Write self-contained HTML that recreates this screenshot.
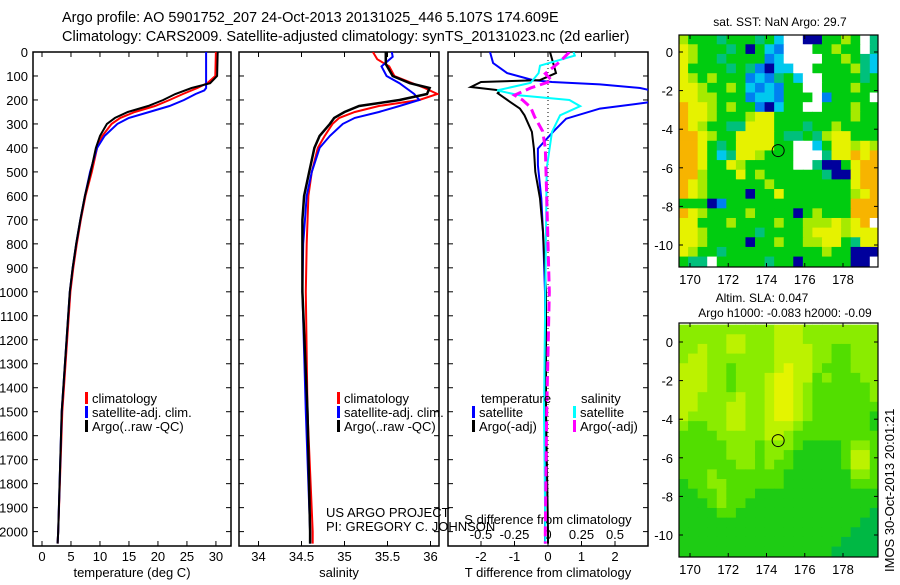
<!DOCTYPE html>
<html><head><meta charset="utf-8"><style>
body{margin:0;background:#fff;}
svg text{font-family:"Liberation Sans",sans-serif;fill:#000;}
</style></head><body>
<svg id="chart" width="900" height="580" viewBox="0 0 900 580" xmlns="http://www.w3.org/2000/svg">
<text x="62" y="22" font-size="14.5">Argo profile: AO 5901752_207 24-Oct-2013 20131025_446 5.107S 174.609E</text>
<text x="62" y="41" font-size="14.5">Climatology: CARS2009. Satellite-adjusted climatology: synTS_20131023.nc (2d earlier)</text>
<g id="g"></g>
</svg>
<script>
// ---- data ----
const depthTicks=[0,100,200,300,400,500,600,700,800,900,1000,1100,1200,1300,1400,1500,1600,1700,1800,1900,2000];
const tempTicks=[0,5,10,15,20,25,30];
const salTicks=[34,34.5,35,35.5,36];
const tdiffTicks=[-2,-1,0,1,2];
const sdiffTicks=[-0.5,-0.25,0,0.25,0.5];
const tDepth=[0,100,130,150,175,200,225,250,275,300,350,400,500,600,700,800,900,1000,1500,2000,2050];
const tArgo=[30.3,30.2,29,25.8,23,20.9,18.3,14.8,12.6,11.2,10,9.3,8.4,7.4,6.6,5.9,5.3,4.8,3.4,2.8,2.7];
const tClim=[30.0,29.9,28.5,26.8,24.3,22,19.5,16,13.5,12,10.4,9.5,8.6,7.5,6.7,6.0,5.4,4.9,3.5,2.8,2.7];
const tSatDepth=[0,100,150,160,175,200,225,250,275,300,350,400,500,600,700,800,900,1000,1500,2000,2050];
const tSat=[28.3,28.3,28.3,28.0,26.5,24.5,22,18.5,15,13,10.8,9.5,8.3,7.4,6.6,5.9,5.3,4.8,3.4,2.8,2.7];
const sArgoDepth=[0,50,100,130,150,175,200,225,250,275,300,350,400,500,600,700,1000,1500,2000,2050];
const sArgo=[35.48,35.48,35.56,35.76,35.99,35.96,35.64,35.17,35.0,34.88,34.83,34.71,34.65,34.59,34.53,34.51,34.51,34.57,34.6,34.6];
const sClimDepth=[0,30,60,100,150,175,200,225,250,275,300,350,400,500,600,800,1000,1500,2000,2050];
const sClim=[35.33,35.38,35.52,35.58,35.93,36.08,35.87,35.4,35.12,34.94,34.86,34.77,34.69,34.62,34.58,34.56,34.55,34.57,34.63,34.63];
const sSatDepth=[0,20,60,100,130,175,200,225,250,275,300,350,400,500,600,800,1000,1500,2000,2050];
const sSat=[35.55,35.56,35.43,35.49,35.64,35.81,35.87,35.64,35.4,35.12,34.98,34.83,34.71,34.62,34.56,34.52,34.51,34.55,34.6,34.6];
const dTSatDepth=[0,46,88,117,125,135,150,161,208,236,278,333,403,472,611,750,1000,1500,2000,2050];
const dTSat=[-1.73,-1.64,-1.22,-0.45,0.12,1.55,2.75,3.1,3.1,1.55,0.54,0.15,-0.3,-0.3,-0.2,-0.15,-0.09,-0.09,-0.09,-0.09];
const dTArgoDepth=[0,88,117,125,146,160,172,208,236,264,333,403,500,611,750,1000,1500,2000,2050];
const dTArgo=[0.06,0.24,-0.24,-2.0,-2.3,-1.43,-1.5,-1.13,-0.84,-0.7,-0.48,-0.42,-0.38,-0.24,-0.15,-0.06,-0.06,0.0,0.0];
const dSSatDepth=[0,15,57,88,129,160,181,200,226,264,333,486,1000,1500,2000,2050];
const dSSat=[0.19,0.2,-0.06,-0.07,-0.13,-0.38,-0.21,0.16,0.24,0.09,0.03,-0.01,-0.02,-0.03,-0.02,-0.02];
const dSArgoDepth=[0,40,90,120,150,180,200,230,270,330,400,600,1000,1500,2000,2050];
const dSArgo=[0.16,0.09,-0.02,0.03,-0.13,-0.25,-0.19,-0.13,-0.1,-0.04,-0.02,-0.01,0.01,-0.01,-0.02,-0.02];
const lonTicks=[170,172,174,176,178];
const latTicks=[0,-2,-4,-6,-8,-10];
const sstRows=[
"LGGGTGGGTGCWWNNGGLGWT","YLGGGTGNGCBWWWGGLGGWT","YLGGTGGGGBCWWWWGGLGTC","YGGGGTGTBNCCWWGGGGLTC",
"YLGLGGGBCBTGCWWGGGGTG","YYLGGLGCBCBGGWWGGGLGG","YYLLGGGBCCBGGGWBGGGGW","OYYLGLGGBNCGGWWGGGLGG",
"OYYLGGGLYYGGGGGGGGLGG","OYLGGTTYYYGGGTGGLGGGG","OOYLGGYYYYGTTGTLYYGGG","OOYGTGYYYYGGWWCGYYLYL",
"OOYGCTYYLGGGWWWTYYOYO","OOYGGYLGGGGGWWTNNGYOO","OOLGGGYGLGGGGGGTNNYOO","OYLGGGGGGLGGGGGGGGYOO",
"OYLGGGGNGGYGGGGGGGLYO","GGGNBGGGGGGGGGGGGGOOO","OYLGGGGLGGGGNGLGGGOOO","YYGGGLGGGGLGGLLLYLYOW",
"YYLGGGGGTGGGGLYYYLYYY","YYLGGGGNGGLGGLLYYGTYY","YLGGTGGGGGGGGGGLGGNNN","GTTWGGGGGTGGNGGGGGNNW"];
const slaRows=[
"333333333344433333333","333334433344433333333","334334433344443322333","344333333344443322333",
"444332333345443222333","444332333455442322233","444332333455432222223","443333433455432222223",
"443334433455432222222","433334433455432222221","322334433444322222221","222233333443222222222",
"222223332333211112332","222223332332111112442","222222332322111112442","222322222221111111332",
"122332222221111111222","112232221111111111111","111232211111111111111","111122111111111111110",
"111111111111111111100","111111111111111111000","111111111111111110000","111111111111111100000"];
const argoLon=174.609, argoLat=-5.107;

// ---- drawing ----
const NS="http://www.w3.org/2000/svg";
const G=document.getElementById('g');
function el(tag,attrs,parent){const e=document.createElementNS(NS,tag);for(const k in attrs)e.setAttribute(k,attrs[k]);(parent||G).appendChild(e);return e;}
function txt(s,x,y,size,anchor,parent){const t=el('text',{x:x,y:y,'font-size':size,'text-anchor':anchor||'start'},parent);t.textContent=s;return t;}
const Y0=52,Y1=546;
const yD=d=>Y0+d*(Y1-Y0)/2060;
const panels=[
 {name:'temperature-panel',x0:33,x1:231,v0:-1.55,v1:32.6},
 {name:'salinity-panel',x0:239,x1:439,v0:33.773,v1:36.099},
 {name:'difference-panel',x0:448,x1:648,v0:-2.985,v1:2.985}
];
panels.forEach(p=>{p.sx=v=>p.x0+(v-p.v0)*(p.x1-p.x0)/(p.v1-p.v0);});
const xT=panels[0].sx,xS=panels[1].sx,xDT=panels[2].sx,xDS=v=>panels[2].sx(v*4);

function series(depths,vals,sx,color,w,name,dash,clipId){
  const pts=depths.map((d,i)=>sx(vals[i]).toFixed(1)+','+yD(d).toFixed(1)).join(' ');
  const a={points:pts,fill:'none',stroke:color,'stroke-width':w,'clip-path':'url(#'+clipId+')'};
  if(dash)a['stroke-dasharray']=dash;
  const l=el('polyline',a);
  
  
}
const defs=el('defs',{});
panels.forEach((p,i)=>{
  const cp=el('clipPath',{id:'c'+i},defs);
  el('rect',{x:p.x0,y:Y0,width:p.x1-p.x0,height:Y1-Y0},cp);
  const fr=el('rect',{x:p.x0,y:Y0,width:p.x1-p.x0,height:Y1-Y0,fill:'none',stroke:'#000','stroke-width':1.5});
  
  
  depthTicks.forEach(d=>{
    el('line',{x1:p.x0,x2:p.x0+5,y1:yD(d),y2:yD(d),stroke:'#000'});
    el('line',{x1:p.x1,x2:p.x1-5,y1:yD(d),y2:yD(d),stroke:'#000'});
  });
});
depthTicks.forEach(d=>{const t=txt(String(d),28,yD(d)+5,13,'end');
  
  });
function xticks(ticks,sx,p,fmt,ylab){
  ticks.forEach(v=>{const x=sx(v);
    el('line',{x1:x,x2:x,y1:Y1,y2:Y1-5,stroke:'#000'});
    el('line',{x1:x,x2:x,y1:Y0,y2:Y0+5,stroke:'#000'});
    const t=txt(fmt(v),x,ylab,13,'middle');
    
    });
}
xticks(tempTicks,xT,panels[0],String,561);
xticks(salTicks,xS,panels[1],String,561);
xticks(tdiffTicks,xDT,panels[2],String,561);
sdiffTicks.forEach(v=>{const t=txt(String(v),xDS(v),539,13,'middle');
  
  });
[['temperature (deg C)',132,'temperature-axis-title'],['salinity',339,'salinity-axis-title'],['T difference from climatology',548,'t-difference-axis-title']].forEach(a=>{
  const t=txt(a[0],a[1],577,13,'middle');
  
  });
{const t=txt('S difference from climatology',548,524,13,'middle');
 
 }
{const z=el('line',{x1:xDT(0),x2:xDT(0),y1:Y0,y2:Y1,stroke:'#000','stroke-dasharray':'1,3'});
 
 }
series(tDepth,tClim,xT,'#f00',2,'temp-climatology-line',null,'c0');
series(tSatDepth,tSat,xT,'#00f',2,'temp-satellite-line',null,'c0');
series(tDepth,tArgo,xT,'#000',2,'temp-argo-line',null,'c0');
series(sClimDepth,sClim,xS,'#f00',2,'sal-climatology-line',null,'c1');
series(sSatDepth,sSat,xS,'#00f',2,'sal-satellite-line',null,'c1');
series(sArgoDepth,sArgo,xS,'#000',2.5,'sal-argo-line',null,'c1');
series(dTSatDepth,dTSat,xDT,'#00f',2,'tdiff-satellite-line',null,'c2');
series(dTArgoDepth,dTArgo,xDT,'#000',2,'tdiff-argo-line',null,'c2');
series(dSSatDepth,dSSat,xDS,'#0ff',2,'sdiff-satellite-line',null,'c2');
series(dSArgoDepth,dSArgo,xDS,'#f0f',3,'sdiff-argo-line','10,5','c2');
function legend(x,y,color,label,name){
  const r=el('rect',{x:x,y:y-11,width:3,height:12,fill:color});
  
  
  const t=txt(label,x+7,y,13);
  
  
}
[[85,'#f00','climatology'],[85,'#00f','satellite-adj. clim.'],[85,'#000','Argo(..raw -QC)']].forEach((a,i)=>legend(a[0],403+i*14,a[1],a[2],'legend-entry'));
[[337,'#f00','climatology'],[337,'#00f','satellite-adj. clim.'],[337,'#000','Argo(..raw -QC)']].forEach((a,i)=>legend(a[0],403+i*14,a[1],a[2],'legend-entry'));
{const t=txt('temperature',481,403,13);
 const s=txt('salinity',581,403,13);}
legend(472,417,'#00f','satellite','legend-entry');
legend(472,431,'#000','Argo(-adj)','legend-entry');
legend(573,417,'#0ff','satellite','legend-entry');
legend(573,431,'#f0f','Argo(-adj)','legend-entry');
{const t=txt('US ARGO PROJECT',326,517,13);
 const s=txt('PI: GREGORY C. JOHNSON',326,531,13);}

const sstCol={Y:'#e6f200',O:'#f7b400',L:'#a6ea00',G:'#00cc10',T:'#00c07c',C:'#00c8ee',B:'#0080f0',N:'#00009c',W:'#ffffff'};
const slaCol=['#00b844','#1ecc14','#52de00','#8aec00','#bcf200','#e4f400'];
function map(y0,y1,lat0y,lat10y,rows,colfn,name,clipId){
  const x0=679,x1=878;
  const lonX=l=>690+(l-170)*(843-690)/8;
  const latY=l=>lat0y+(-l)*(lat10y-lat0y)/10;
  const cp=el('clipPath',{id:clipId},defs);
  el('rect',{x:x0,y:y0,width:x1-x0,height:y1-y0},cp);
  const g=el('g',{'clip-path':'url(#'+clipId+')'});
  
  
  const lonStart=169.4,latStart=0.9,step=0.5;
  rows.forEach((row,r)=>{[...row].forEach((ch,c)=>{
    const xa=lonX(lonStart+c*step),xb=lonX(lonStart+(c+1)*step);
    const ya=latY(latStart-r*step),yb=latY(latStart-(r+1)*step);
    el('rect',{x:xa,y:ya,width:xb-xa+0.6,height:yb-ya+0.6,fill:colfn(ch)},g);
  });});
  const fr=el('rect',{x:x0,y:y0,width:x1-x0,height:y1-y0,fill:'none',stroke:'#000','stroke-width':1.2});
  
  
  lonTicks.forEach(l=>{const x=lonX(l);
    el('line',{x1:x,x2:x,y1:y1,y2:y1-4,stroke:'#000'});el('line',{x1:x,x2:x,y1:y0,y2:y0+4,stroke:'#000'});
    const t=txt(String(l),x,y1+17,13,'middle');});
  latTicks.forEach(l=>{const y=latY(l);
    el('line',{x1:x0,x2:x0+4,y1:y,y2:y,stroke:'#000'});el('line',{x1:x1,x2:x1-4,y1:y,y2:y,stroke:'#000'});
    const t=txt(String(l),673,y+5,13,'end');});
  const m=el('circle',{cx:lonX(argoLon),cy:latY(argoLat),r:6,fill:'none',stroke:'#000','stroke-width':1});
  
  
}
map(35,267,52,245,sstRows,ch=>sstCol[ch],'sst-map','m1');
map(323,557,342,535,slaRows,ch=>slaCol[+ch],'sla-map','m2');
{const t=txt('sat. SST: NaN Argo: 29.7',780,26,12,'middle');
 const a=txt('Altim. SLA: 0.047',762,302,12,'middle');
 const b=txt('Argo h1000: -0.083 h2000: -0.09',785,317,12,'middle');
 const c=txt('IMOS 30-Oct-2013 20:01:21',0,0,13,'start');c.setAttribute('transform','translate(894,572) rotate(-90)');
 }
</script>
</body></html>
